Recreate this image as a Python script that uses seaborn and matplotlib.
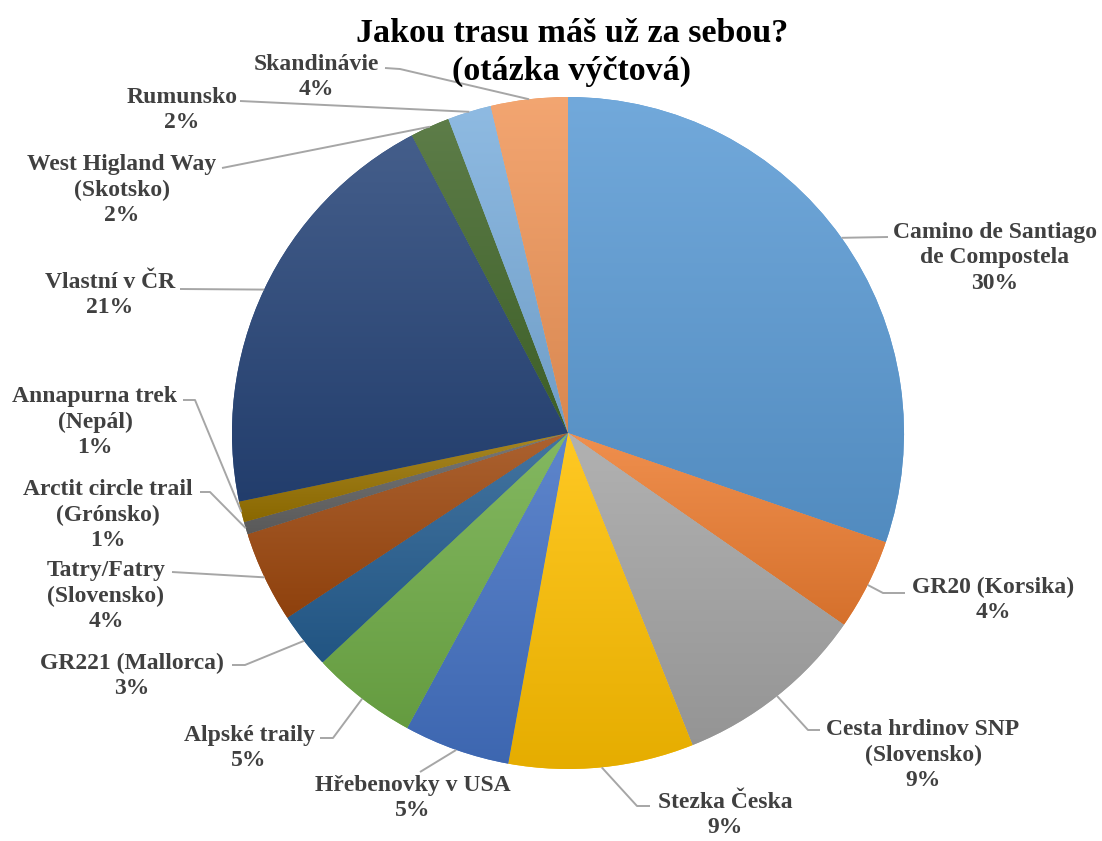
import numpy as np
import matplotlib
matplotlib.use("Agg")
import matplotlib.pyplot as plt
import seaborn as sns

# --- data -----------------------------------------------------------------
routes = [
    "Camino de Santiago\nde Compostela",
    "GR20 (Korsika)",
    "Cesta hrdinov SNP\n(Slovensko)",
    "Stezka Česka",
    "Hřebenovky v USA",
    "Alpské traily",
    "GR221 (Mallorca)",
    "Tatry/Fatry\n(Slovensko)",
    "Arctit circle trail\n(Grónsko)",
    "Annapurna trek\n(Nepál)",
    "Vlastní v ČR",
    "West Higland Way\n(Skotsko)",
    "Rumunsko",
    "Skandinávie",
]
shares = [30.3, 4.4, 9.3, 8.9, 5.1, 5.1, 2.7, 4.4, 0.6, 1.0, 20.6, 1.9, 2.1, 3.7]
slice_colors = [
    "#5B9BD5", "#ED7D31", "#A5A5A5", "#FFC000", "#4472C4", "#70AD47",
    "#255E91", "#9E480E", "#636363", "#997300", "#264478", "#43682B",
    "#7CAFDD", "#F1975A",
]
title_lines = ["Jakou trasu máš už za sebou?", "(otázka výčtová)"]

# --- layout (pixel coordinates, y pointing down) ---------------------------
W, H = 1102, 841
cx, cy, R = 568, 433, 336
label_pos = [
    (995, 258), (993, 600), (923, 755), (725, 815), (413, 798), (249, 748),
    (132, 676), (106, 596), (108, 515), (95, 422), (110, 295), (122, 190),
    (182, 110), (316, 77),
]
# leader line: points after the wedge edge, ending next to the label
leader_via = [
    [(888, 237)],
    [(883, 593), (905, 593)],
    [(808, 730), (820, 730)],
    [(637, 806), (650, 806)],
    [(420, 772)],
    [(333, 738), (320, 738)],
    [(245, 665), (232, 665)],
    [(172, 572)],
    [(210, 492), (200, 492)],
    [(195, 400), (183, 400)],
    [(180, 289)],
    [(222, 168)],
    [(240, 101)],
    [(400, 69), (385, 68)],
]

sns.set_theme(style="white")
plt.rcParams["font.family"] = ["Liberation Serif", "DejaVu Serif"]

palette = sns.color_palette(slice_colors)

fig = plt.figure(figsize=(W / 100, H / 100), dpi=100)
ax = fig.add_axes([0, 0, 1, 1])

# y axis runs downward, so counterclockwise in data space is clockwise on screen
wedges, _ = ax.pie(
    shares, colors=palette, startangle=-90, counterclock=True,
    center=(cx, cy), radius=R, wedgeprops=dict(linewidth=0),
)

# vertical shading inside every slice: lighter at the top, darker at the bottom
white = np.array([1.0, 1.0, 1.0])
black = np.array([0.0, 0.0, 0.0])
t = np.linspace(0, 1, 256)[:, None, None]
for w, c in zip(wedges, palette):
    c = np.array(c)
    top = c * 0.86 + white * 0.14
    bot = c * 0.90 + black * 0.10
    img = top * (1 - t) + bot * t
    verts = w.get_patch_transform().transform(w.get_path().vertices)
    x0, y0 = verts.min(axis=0)
    x1, y1 = verts.max(axis=0)
    im = ax.imshow(img, extent=(x0, x1, y1, y0), origin="upper",
                   interpolation="bilinear", aspect="auto", zorder=2)
    im.set_clip_path(w)

total = sum(shares)
text_color = "#404040"
line_color = "#A6A6A6"
for w, name, val, (tx, ty), via in zip(wedges, routes, shares, label_pos, leader_via):
    mid = np.deg2rad((w.theta1 + w.theta2) / 2)
    ex, ey = cx + R * np.cos(mid), cy + R * np.sin(mid)
    xs = [ex] + [p[0] for p in via]
    ys = [ey] + [p[1] for p in via]
    ax.plot(xs, ys, color=line_color, lw=1.4, zorder=3, solid_capstyle="butt")
    pct = int(np.floor(val / total * 100 + 0.5))
    ax.text(tx, ty, f"{name}\n{pct}%", ha="center", va="center",
            multialignment="center", fontsize=17, fontweight="bold",
            color=text_color, linespacing=1.3, zorder=4)

for line, ty in zip(title_lines, (33, 71)):
    ax.text(572, ty, line, ha="center", va="center", fontsize=24.5,
            fontweight="bold", color="#000000", zorder=4)

ax.set_xlim(0, W)
ax.set_ylim(H, 0)
ax.set_aspect("equal")
ax.axis("off")

fig.savefig("out.png", dpi=100, facecolor="white")
